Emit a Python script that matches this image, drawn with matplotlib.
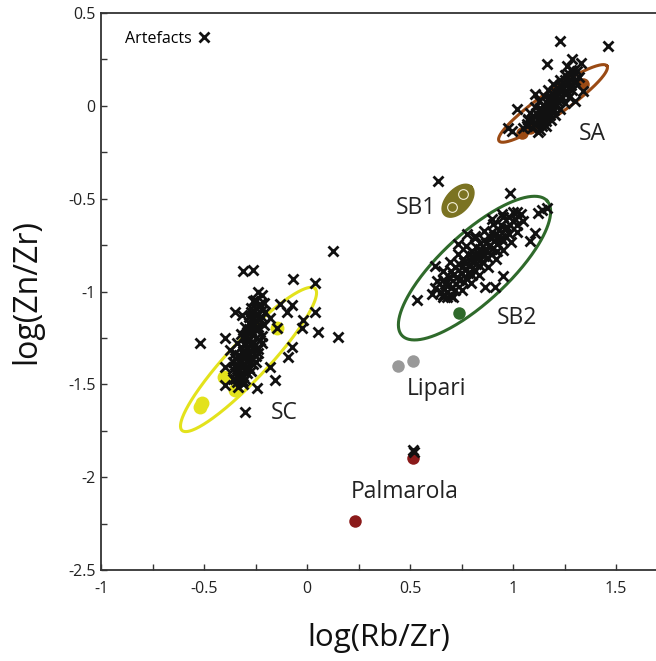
import numpy as np
import matplotlib
matplotlib.use("Agg")
import matplotlib.pyplot as plt
from matplotlib.lines import Line2D
from matplotlib.ticker import FixedLocator, FixedFormatter, MultipleLocator

plt.rcParams['font.family'] = ['Open Sans', 'DejaVu Sans']

# ---------------- data: artefacts (crosses) ----------------
sa_x = [1.09, 1.12, 1.07, 1.11, 1.14, 1.09, 1.13, 1.13, 1.16, 1.11, 1.15, 1.12,
        1.16, 1.18, 1.13, 1.17, 1.14, 1.15, 1.18, 1.20, 1.16, 1.19, 1.17, 1.21,
        1.20, 1.22, 1.18, 1.21, 1.19, 1.23, 1.22, 1.24, 1.20, 1.23, 1.25,
        1.24, 1.26, 1.23, 1.25, 1.27, 1.28, 1.25, 1.29, 1.27, 1.30, 1.31, 1.29,
        1.072, 1.10, 1.13, 1.084, 1.108, 1.138, 1.162, 1.106, 1.130, 1.160, 1.184,
        1.128, 1.152, 1.182, 1.206, 1.150, 1.174, 1.204, 1.228, 1.172, 1.196, 1.226, 1.250,
        1.194, 1.218, 1.248, 1.272, 1.226, 1.255, 1.284, 1.253, 1.30, 1.28, 1.319,
        1.228, 1.461, 1.165, 1.286, 1.330, 1.340, 1.301, 1.019, 0.976, 1.068,
        1.073, 1.107, 1.262, 0.995, 1.05]
sa_y = [-0.12, -0.14, -0.10, -0.09, -0.11, -0.07, -0.08, -0.06, -0.08, -0.04, -0.05, -0.07,
        -0.03, -0.05, -0.01, -0.02, -0.04, 0.00, 0.00, -0.02, 0.02, 0.01, -0.01, 0.00,
        0.04, 0.02, 0.05, 0.05, 0.03, 0.03, 0.07, 0.05, 0.08, 0.08, 0.07,
        0.10, 0.08, 0.11, 0.11, 0.13, 0.11, 0.14, 0.16, 0.17, 0.14, 0.19, 0.19,
        -0.078, -0.10, -0.13, -0.038, -0.060, -0.087, -0.109, -0.007, -0.029, -0.056, -0.078,
        0.024, 0.002, -0.025, -0.047, 0.055, 0.033, 0.006, -0.016, 0.086, 0.064, 0.037, 0.015,
        0.117, 0.095, 0.068, 0.046, 0.139, 0.113, 0.086, 0.166, 0.122, 0.192, 0.157,
        0.349, 0.323, 0.226, 0.253, 0.231, 0.081, 0.027, -0.016, -0.118, -0.108,
        -0.070, 0.065, 0.215, -0.134, -0.12]

sb2_x = [0.65, 0.68, 0.62, 0.66, 0.69, 0.72, 0.66, 0.70, 0.67,
         0.73, 0.76, 0.70, 0.74, 0.71, 0.75,
         0.77, 0.80, 0.74, 0.78, 0.75, 0.79, 0.76,
         0.81, 0.84, 0.78, 0.82, 0.79, 0.83, 0.80,
         0.85, 0.88, 0.82, 0.86, 0.83, 0.87, 0.84,
         0.89, 0.92, 0.86, 0.90, 0.87, 0.91,
         0.93, 0.95, 0.90, 0.94, 0.91,
         0.96, 0.98, 0.94, 0.97, 1.00, 1.02, 0.98, 1.01, 1.04, 1.02,
         0.631, 0.666, 0.701, 0.660, 0.689, 0.723, 0.752,
         0.694, 0.720, 0.746, 0.772, 0.798, 0.733, 0.759, 0.785, 0.811, 0.837,
         0.773, 0.799, 0.825, 0.851, 0.877, 0.813, 0.839, 0.865, 0.891, 0.917,
         0.859, 0.888, 0.922, 0.951, 0.904, 0.933, 0.962, 0.991,
         0.949, 0.984, 1.019, 1.001, 1.047,
         0.985, 1.165, 1.121, 1.107, 1.083, 0.621, 0.534, 0.607, 0.660, 0.709,
         0.864, 0.913, 0.951, 0.777, 0.816, 0.733, 0.898, 0.947, 0.636, 1.14]
sb2_y = [-1.00, -1.03, -0.98, -1.02, -0.96, -0.99, -0.94, -0.98, -0.96,
         -0.92, -0.95, -0.89, -0.94, -0.91, -0.90,
         -0.88, -0.91, -0.85, -0.90, -0.87, -0.86, -0.84,
         -0.83, -0.86, -0.80, -0.85, -0.83, -0.82, -0.81,
         -0.79, -0.82, -0.76, -0.81, -0.79, -0.78, -0.77,
         -0.75, -0.78, -0.72, -0.77, -0.74, -0.73,
         -0.70, -0.73, -0.68, -0.71, -0.70,
         -0.66, -0.69, -0.64, -0.65, -0.62, -0.64, -0.60, -0.61, -0.58, -0.57,
         -0.944, -0.984, -1.023, -0.889, -0.921, -0.960, -0.993,
         -0.839, -0.868, -0.898, -0.927, -0.956, -0.796, -0.825, -0.855, -0.884, -0.913,
         -0.753, -0.782, -0.812, -0.841, -0.870, -0.710, -0.739, -0.769, -0.798, -0.827,
         -0.673, -0.706, -0.745, -0.778, -0.637, -0.670, -0.702, -0.735,
         -0.600, -0.640, -0.679, -0.571, -0.622,
         -0.468, -0.548, -0.575, -0.683, -0.726, -0.860, -1.048, -1.011, -1.032, -1.032,
         -0.978, -0.978, -0.914, -0.688, -0.699, -0.742, -0.608, -0.581, -0.403, -0.56]

sc_x = [-0.34, -0.31, -0.36, -0.32, -0.32, -0.29, -0.35, -0.30, -0.34,
        -0.31, -0.28, -0.34, -0.29, -0.33, -0.26,
        -0.30, -0.27, -0.33, -0.28, -0.32, -0.25, -0.35,
        -0.29, -0.26, -0.32, -0.27, -0.31, -0.24, -0.30,
        -0.28, -0.25, -0.31, -0.26, -0.30, -0.23,
        -0.27, -0.24, -0.29, -0.25, -0.28,
        -0.25, -0.23, -0.28, -0.26, -0.24, -0.22, -0.27, -0.25,
        -0.23, -0.21, -0.26, -0.22, -0.24,
        -0.35, -0.31, -0.36, -0.33, -0.30, -0.27, -0.36, -0.32, -0.29, -0.25,
        -0.35, -0.31, -0.28, -0.24, -0.34, -0.30, -0.27, -0.22,
        -0.32, -0.29, -0.26, -0.22, -0.30, -0.27, -0.24, -0.21,
        -0.28, -0.25, -0.22, -0.27, -0.23,
        0.126, -0.311, -0.262, -0.068, 0.039, -0.252, -0.350, -0.131, -0.073, -0.097,
        0.039, -0.019, -0.024, 0.053, 0.150, -0.519, -0.398, -0.374, -0.073, -0.092,
        -0.180, -0.398, -0.155, -0.398, -0.335, -0.243, -0.301, -0.204, -0.316, -0.180,
        -0.146]
sc_y = [-1.49, -1.50, -1.47, -1.46, -1.45, -1.44, -1.44, -1.47, -1.42,
        -1.40, -1.41, -1.39, -1.38, -1.42, -1.39,
        -1.35, -1.36, -1.34, -1.33, -1.37, -1.35, -1.36,
        -1.31, -1.30, -1.30, -1.28, -1.32, -1.31, -1.29,
        -1.26, -1.25, -1.25, -1.27, -1.24, -1.26,
        -1.21, -1.20, -1.22, -1.19, -1.20,
        -1.16, -1.15, -1.17, -1.14, -1.12, -1.10, -1.11, -1.09,
        -1.07, -1.06, -1.05, -1.02, -1.00,
        -1.47, -1.48, -1.42, -1.43, -1.42, -1.43, -1.38, -1.38, -1.37, -1.38,
        -1.33, -1.33, -1.34, -1.33, -1.28, -1.28, -1.29, -1.28,
        -1.23, -1.24, -1.23, -1.24, -1.19, -1.18, -1.19, -1.18,
        -1.14, -1.13, -1.14, -1.09, -1.08,
        -0.780, -0.887, -0.882, -0.930, -0.952, -1.048, -1.113, -1.065, -1.075, -1.113,
        -1.113, -1.156, -1.199, -1.220, -1.247, -1.280, -1.253, -1.317, -1.301, -1.355,
        -1.409, -1.409, -1.478, -1.505, -1.516, -1.522, -1.651, -1.113, -1.129, -1.145,
        -1.199]

pal_art_x = [0.515, 0.52]
pal_art_y = [-1.855, -1.865]

# ---------------- data: geological sources (filled dots) ----------------
sa_src_x = [1.34, 1.044, 1.08]
sa_src_y = [0.118, -0.145, -0.12]
sb2_src_x = [0.738]
sb2_src_y = [-1.118]
sc_src_x = [-0.519, -0.51, -0.146, -0.403, -0.35]
sc_src_y = [-1.624, -1.60, -1.199, -1.46, -1.53]
lip_x = [0.442, 0.515]
lip_y = [-1.403, -1.376]
pal_x = [0.515, 0.233]
pal_y = [-1.898, -2.237]
sb1_src_x = [0.755, 0.705]
sb1_src_y = [-0.475, -0.545]

# ---------------- ellipses: centre, half-axis vectors (data units) ----------------
ell_names = ['SA', 'SB1', 'SB2', 'SC']
ell_center = [(1.194, 0.013), (0.733, -0.511), (0.813, -0.874), (-0.284, -1.366)]
ell_u = [(0.262, 0.202), (0.063, 0.075), (0.352, 0.363), (0.323, 0.382)]
ell_v = [(0.034, -0.054), (0.039, -0.040), (0.1125, -0.134), (0.069, -0.072)]
ell_colors = ['#9a4a14', '#7b7322', '#2f6a2b', '#e3e21c']

labels_txt = ['SA', 'SB1', 'SB2', 'SC', 'Lipari', 'Palmarola']
labels_pos = [(1.383, -0.151), (0.53, -0.548), (1.019, -1.145), (-0.112, -1.656),
              (0.63, -1.525), (0.475, -2.08)]

xticks = [-1, -0.5, 0, 0.5, 1, 1.5]
xtick_labels = ['-1', '-0.5', '0', '0.5', '1', '1.5']
yticks = [0.5, 0, -0.5, -1, -1.5, -2, -2.5]
ytick_labels = ['0.5', '0', '-0.5', '-1', '-1.5', '-2', '-2.5']

# ---------------- figure ----------------
fig = plt.figure(figsize=(6.56, 6.61), dpi=100)
ax = fig.add_axes([0.154, 0.1377, 0.846, 0.8426])
ax.set_xlim(-1, 1.694)
ax.set_ylim(-2.5, 0.5)

t = np.linspace(0, 2 * np.pi, 300)
for name, c, u, v, col in zip(ell_names, ell_center, ell_u, ell_v, ell_colors):
    ex = c[0] + u[0] * np.cos(t) + v[0] * np.sin(t)
    ey = c[1] + u[1] * np.cos(t) + v[1] * np.sin(t)
    if name == 'SB1':
        ax.fill(ex, ey, color=col, zorder=2)
        ax.plot(ex, ey, color=col, lw=2.0, zorder=2)
    else:
        ax.plot(ex, ey, color=col, lw=2.2, zorder=2)

ms_dot = 9
ax.plot(sa_src_x, sa_src_y, 'o', color='#9a4a14', ms=ms_dot, mew=0, zorder=3)
ax.plot(sb2_src_x, sb2_src_y, 'o', color='#2f6a2b', ms=ms_dot, mew=0, zorder=3)
ax.plot(sc_src_x, sc_src_y, 'o', color='#e3e21c', ms=ms_dot + 1, mew=0, zorder=3)
ax.plot(lip_x, lip_y, 'o', color='#999999', ms=ms_dot, mew=0, zorder=3)
ax.plot(pal_x, pal_y, 'o', color='#8b1a1a', ms=ms_dot, mew=0, zorder=3)
ax.plot(sb1_src_x, sb1_src_y, 'o', mfc='#7b7322', mec='#f4f0d8', ms=7, mew=0.8, zorder=3)

cross_kw = dict(marker='x', ls='none', color='#111111', ms=7, mew=2.0, zorder=4)
for xs, ys in [(sa_x, sa_y), (sb2_x, sb2_y), (sc_x, sc_y), (pal_art_x, pal_art_y)]:
    ax.plot(xs, ys, **cross_kw)

for txt, (lx, ly) in zip(labels_txt, labels_pos):
    ax.text(lx, ly, txt, fontsize=16.5, color='#222222', ha='center', va='center', zorder=5)

handle = Line2D([], [], marker='x', ls='none', color='#111111', ms=6.5, mew=2.0)
ax.legend([handle], ['Artefacts'], loc='upper left', bbox_to_anchor=(0.043, 0.968),
          markerfirst=False, frameon=False, fontsize=11.5, handlelength=0.8,
          handletextpad=0.4, borderaxespad=0.0, borderpad=0.0)

ax.xaxis.set_major_locator(FixedLocator(xticks))
ax.xaxis.set_major_formatter(FixedFormatter(xtick_labels))
ax.yaxis.set_major_locator(FixedLocator(yticks))
ax.yaxis.set_major_formatter(FixedFormatter(ytick_labels))
ax.xaxis.set_minor_locator(MultipleLocator(0.25))
ax.yaxis.set_minor_locator(MultipleLocator(0.25))
ax.tick_params(which='both', direction='in', length=4, width=1.0, color='#333333',
               top=False, right=False, labelsize=11.5, labelcolor='#222222')
ax.tick_params(axis='x', pad=8)
ax.tick_params(axis='y', pad=4)

for s in ['left', 'bottom', 'top']:
    ax.spines[s].set_color('#333333')
    ax.spines[s].set_linewidth(1.3)
ax.spines['right'].set_visible(False)

ax.set_xlabel('log(Rb/Zr)', fontsize=22.5, color='#111111', labelpad=19)
ax.set_ylabel('log(Zn/Zr)', fontsize=23, color='#111111', labelpad=18)

fig.savefig('out.png', dpi=100)
